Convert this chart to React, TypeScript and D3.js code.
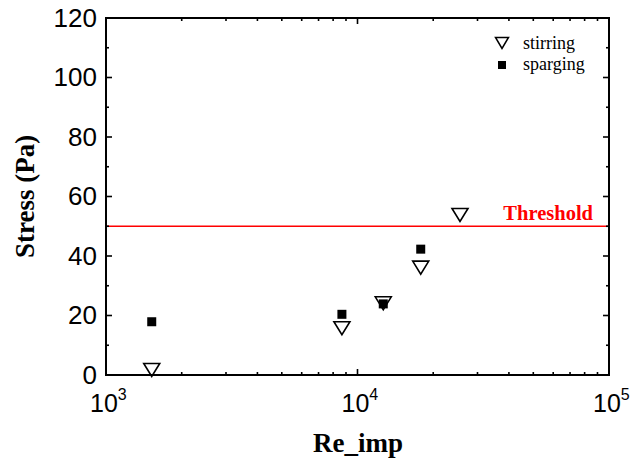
import React from "react";
import * as d3 from "d3";

// Impeller Reynolds number vs. wall shear stress
const stirringRe = [1520, 8670, 12660, 17840, 25560];
const stirringStress = [1.7, 15.7, 24.1, 36.1, 53.8];
const spargingRe = [1520, 8670, 12660, 17840];
const spargingStress = [17.9, 20.4, 23.9, 42.3];
const thresholdValue = 50;
const yTicks = [0, 20, 40, 60, 80, 100, 120];
const xDecades = [3, 4, 5];

const W = 630;
const H = 465;
const M = { left: 106, right: 21, top: 18, bottom: 90 };

export default function App() {
  const x = d3.scaleLog().domain([1e3, 1e5]).range([M.left, W - M.right]);
  const y = d3.scaleLinear().domain([0, 120]).range([H - M.bottom, M.top]);
  const x0 = M.left, x1 = W - M.right, y0 = H - M.bottom, y1 = M.top;

  const minorX: number[] = [];
  for (let d = 3; d < 5; d++) for (let k = 2; k <= 9; k++) minorX.push(k * Math.pow(10, d));
  const minorY = d3.range(10, 120, 20);

  const tri = (cx: number, cy: number, w: number, h: number) =>
    `M${cx - w / 2},${cy - h / 2}L${cx + w / 2},${cy - h / 2}L${cx},${cy + h / 2}Z`;

  return (
    <svg width={W} height={H} style={{ display: "block", position: "absolute", left: 0, top: 0 }}>
      <rect width={W} height={H} fill="#fff" />
      {/* threshold line */}
      <line x1={x0} x2={x1} y1={y(thresholdValue)} y2={y(thresholdValue)} stroke="#ff0000" strokeWidth={1.6} />
      <text x={593} y={y(thresholdValue) - 6} textAnchor="end" fill="#ff0000" fontFamily="'Liberation Serif', 'Times New Roman', serif" fontWeight="bold" fontSize={20.5}>Threshold</text>

      {/* frame ticks */}
      <g stroke="#000" strokeWidth={1.6}>
        {xDecades.map((d) => {
          const xv = x(Math.pow(10, d));
          return (
            <g key={"xm" + d}>
              <line x1={xv} x2={xv} y1={y0} y2={y0 - 6} />
              <line x1={xv} x2={xv} y1={y1} y2={y1 + 6} />
            </g>
          );
        })}
        {minorX.map((v) => (
          <g key={"xn" + v}>
            <line x1={x(v)} x2={x(v)} y1={y0} y2={y0 - 3} />
            <line x1={x(v)} x2={x(v)} y1={y1} y2={y1 + 3} />
          </g>
        ))}
        {yTicks.map((v) => (
          <g key={"ym" + v}>
            <line x1={x0} x2={x0 + 6} y1={y(v)} y2={y(v)} />
            <line x1={x1} x2={x1 - 6} y1={y(v)} y2={y(v)} />
          </g>
        ))}
        {minorY.map((v) => (
          <g key={"yn" + v}>
            <line x1={x0} x2={x0 + 3} y1={y(v)} y2={y(v)} />
            <line x1={x1} x2={x1 - 3} y1={y(v)} y2={y(v)} />
          </g>
        ))}
      </g>
      <rect x={x0} y={y1} width={x1 - x0} height={y0 - y1} fill="none" stroke="#000" strokeWidth={2} />

      {/* y tick labels */}
      {yTicks.map((v) => (
        <text key={"yl" + v} x={97} y={y(v) + 8.5} textAnchor="end" fontFamily="'Liberation Sans', Arial, sans-serif" fontSize={26}>{v}</text>
      ))}
      {/* x tick labels */}
      {xDecades.map((d) => (
        <text key={"xl" + d} x={x(Math.pow(10, d)) - 16} y={412} fontFamily="'Liberation Sans', Arial, sans-serif" fontSize={25}>
          10<tspan fontSize={16} dy={-12}>{d}</tspan>
        </text>
      ))}

      {/* axis titles */}
      <text x={358} y={452} textAnchor="middle" fontFamily="'Liberation Serif', 'Times New Roman', serif" fontWeight="bold" fontSize={27}>Re_imp</text>
      <text transform={`translate(34,${(y0 + y1) / 2}) rotate(-90)`} textAnchor="middle" fontFamily="'Liberation Serif', 'Times New Roman', serif" fontWeight="bold" fontSize={27}>Stress (Pa)</text>

      {/* sparging points */}
      {spargingRe.map((r, i) => (
        <rect key={"sp" + i} x={x(r) - 4.5} y={y(spargingStress[i]) - 4.5} width={9} height={9} fill="#000" />
      ))}
      {/* stirring points */}
      {stirringRe.map((r, i) => (
        <path key={"st" + i} d={tri(x(r), y(stirringStress[i]), 16, 13)} fill="none" stroke="#000" strokeWidth={1.6} />
      ))}

      {/* legend */}
      <path d={tri(502, 43, 13, 11)} fill="none" stroke="#000" strokeWidth={1.5} />
      <text x={523} y={49} fontFamily="'Liberation Serif', 'Times New Roman', serif" fontSize={18}>stirring</text>
      <rect x={498} y={61} width={8} height={8} fill="#000" />
      <text x={523} y={70} fontFamily="'Liberation Serif', 'Times New Roman', serif" fontSize={18}>sparging</text>
    </svg>
  );
}
